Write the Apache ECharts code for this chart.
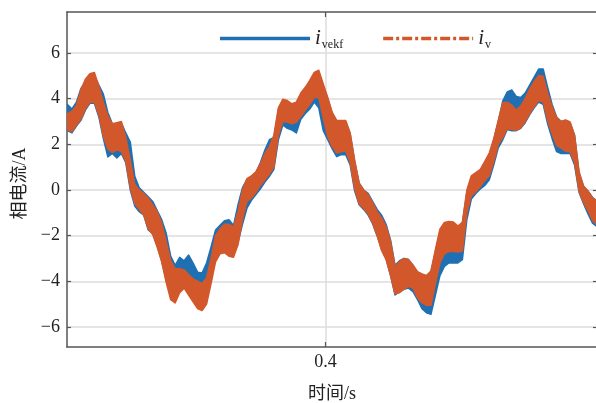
<!DOCTYPE html>
<html>
<head>
<meta charset="utf-8">
<script src="https://cdn.jsdelivr.net/npm/echarts@6/dist/echarts.min.js"></script>
<style>
  html, body { margin: 0; padding: 0; background: #fff; }
  #chart { width: 596px; height: 403px; }
</style>
</head>
<body>
<div id="chart"></div>
<script>
// Sampling of the phase current: one min/max pair per 0.4 ms window
const t0 = 0.377;
const dt = 0.0004;

// i_vekf (EKF estimate): per-window maximum and minimum, A
const vekfMax = [
  3.75, 3.55, 3.85, 4.45, 4.7, 5.05, 5.0, 4.6, 4.2, 3.4,
  2.9, 2.9, 2.95, 2.5, 2.1, 0.6, 0.1, -0.1, -0.3, -0.5,
  -0.9, -1.3, -1.9, -2.9, -3.3, -2.95, -3.1, -2.85, -3.2, -3.6,
  -3.64, -3.2, -2.5, -1.75, -1.55, -1.35, -1.3, -1.55, -0.66, 0.1,
  0.45, 0.6, 0.75, 1.2, 1.75, 2.2, 2.3, 3.5, 3.9, 3.8,
  3.7, 3.8, 4.15, 4.45, 4.75, 5.05, 5.1, 4.5, 4.0, 3.35,
  3.0, 3.0, 3.0, 2.45, 1.25, 0.3, 0.0, -0.15, -0.5, -0.85,
  -1.1, -1.5, -2.2, -3.3, -3.1, -3.0, -3.05, -3.3, -3.6, -3.7,
  -3.8, -3.6, -2.7, -1.8, -1.5, -1.45, -1.45, -1.6, -1.45, -0.1,
  0.55, 0.7, 0.85, 1.2, 1.55, 2.2, 3.0, 3.9, 4.3, 4.38,
  4.1, 4.05, 4.25, 4.6, 4.95, 5.3, 5.3, 4.5, 3.75, 3.2,
  3.0, 3.05, 2.95, 2.4, 0.75, 0.15, -0.05, -0.33, -0.5
];
const vekfMin = [
  2.6, 2.5, 2.8, 3.05, 3.5, 3.8, 3.8, 3.2, 2.25, 1.45,
  1.6, 1.4, 1.6, 1.2, 0.0, -0.7, -0.95, -1.1, -1.75, -1.9,
  -2.45, -3.1, -3.95, -4.3, -4.1, -3.9, -3.9, -4.0, -4.3, -4.6,
  -4.8, -4.5, -3.8, -3.0, -2.7, -2.6, -2.7, -2.8, -2.3, -1.5,
  -0.8, -0.45, -0.2, 0.05, 0.35, 0.6, 0.9, 2.2, 2.85, 2.7,
  2.63, 2.5, 3.1, 3.35, 3.55, 3.85, 3.6, 2.6, 2.2, 1.8,
  1.46, 1.55, 1.55, 1.1, -0.05, -0.65, -0.85, -1.1, -1.48, -2.0,
  -2.6, -3.0, -3.75, -4.6, -4.45, -4.35, -4.3, -4.45, -4.8, -5.2,
  -5.38, -5.45, -4.6, -3.75, -3.35, -3.2, -3.2, -3.2, -3.05, -1.3,
  -0.4, -0.15, 0.05, 0.2, 0.45, 1.1, 1.85, 2.2, 2.65, 2.6,
  2.6, 2.7, 2.95, 3.3, 3.6, 3.85, 3.75, 2.9, 2.25, 1.68,
  1.6, 1.6, 1.6, 1.1, -0.1, -0.6, -1.05, -1.45, -1.6
];

// i_v (measured): per-window maximum and minimum, A
const vMax = [
  3.35, 3.45, 3.7, 4.4, 4.85, 5.1, 5.15, 4.55, 3.85, 3.25,
  2.9, 2.95, 3.0, 2.3, 1.3, 0.25, 0.0, -0.15, -0.35, -0.65,
  -0.95, -1.45, -2.25, -3.1, -3.45, -3.45, -3.5, -3.7, -3.9, -4.0,
  -4.1, -3.85, -3.0, -2.0, -1.7, -1.5, -1.5, -1.62, -0.95, 0.0,
  0.5, 0.62, 0.8, 1.15, 1.6, 1.9, 2.4, 3.6, 3.98, 3.92,
  3.78, 3.85, 4.25, 4.5, 4.8, 5.15, 5.25, 4.65, 4.05, 3.4,
  3.05, 3.05, 3.05, 2.5, 1.3, 0.3, 0.0, -0.2, -0.55, -0.95,
  -1.22, -1.6, -2.25, -3.35, -3.15, -3.0, -3.05, -3.3, -3.58, -3.68,
  -3.75, -3.55, -2.6, -1.72, -1.42, -1.38, -1.4, -1.58, -1.42, 0.0,
  0.62, 0.76, 0.9, 1.25, 1.62, 2.25, 3.05, 3.82, 3.85, 3.72,
  3.5, 3.68, 4.02, 4.42, 4.75, 5.02, 4.98, 4.25, 3.65, 3.18,
  3.0, 3.07, 2.98, 2.4, 0.8, 0.18, -0.05, -0.33, -0.5
];
const vMin = [
  2.65, 2.55, 2.85, 3.1, 3.55, 3.85, 3.85, 3.3, 2.35, 1.8,
  1.65, 1.75, 1.7, 1.25, 0.1, -0.6, -0.85, -1.1, -1.7, -1.95,
  -2.5, -3.15, -4.05, -4.8, -4.95, -4.5, -4.3, -4.6, -4.9, -5.2,
  -5.28, -5.0, -4.1, -3.15, -2.8, -2.75, -2.9, -2.95, -2.4, -1.3,
  -0.5, -0.35, -0.1, 0.2, 0.45, 0.7, 1.0, 2.4, 3.0, 2.98,
  2.9, 2.98, 3.22, 3.5, 3.75, 4.05, 4.05, 3.15, 2.35, 1.9,
  1.62, 1.68, 1.72, 1.2, 0.05, -0.62, -0.8, -1.05, -1.45, -2.0,
  -2.65, -3.05, -3.75, -4.55, -4.5, -4.35, -4.22, -4.3, -4.72, -4.95,
  -5.06, -5.05, -4.1, -3.2, -2.8, -2.7, -2.7, -2.72, -2.68, -1.0,
  -0.25, -0.08, 0.15, 0.42, 0.62, 1.25, 2.0, 2.3, 2.68, 2.65,
  2.62, 2.72, 3.0, 3.35, 3.65, 3.92, 3.85, 3.05, 2.45, 1.95,
  1.84, 1.7, 1.68, 1.2, -0.05, -0.55, -0.9, -1.33, -1.52
];

const yTicks = [-6, -4, -2, 0, 2, 4, 6];
const xTicks = [0.4];

const BLUE = '#1f70b3';
const ORANGE = '#d2582b';
const AXIS = '#555555';
const GRID = '#dcdcdc';
const SERIF = "'Liberation Serif', 'Noto Sans CJK SC', serif";

const X_MIN = 0.37696, X_MAX = 0.4242;
const Y_MIN = -6.88, Y_MAX = 7.8;

// Legend glyphs: solid bar and dash-dot bar (90 x 3.5)
const ICON_SOLID = 'path://M0,0H90V3.5H0Z';
const ICON_DASHDOT = 'path://M0,0H10V3.5H0Z M13,0H16V3.5H13Z M19,0H29V3.5H19Z M32,0H35V3.5H32Z ' +
  'M38,0H48V3.5H38Z M51,0H54V3.5H51Z M57,0H67V3.5H57Z M70,0H73V3.5H70Z M76,0H86V3.5H76Z M89,0H90V3.5H89Z';

// Ripple band: upper edge through the window maxima, lower edge back through the minima
function rippleBand(maxArr, minArr, color) {
  return function (params, api) {
    const top = [];
    const bot = [];
    for (let i = 0; i < maxArr.length; i++) {
      const t = t0 + i * dt;
      top.push(api.coord([t, maxArr[i]]));
      bot.push(api.coord([t, minArr[i]]));
    }
    return {
      type: 'polygon',
      shape: { points: top.concat(bot.reverse()) },
      style: { fill: color, stroke: color, lineWidth: 1.5, lineJoin: 'round' }
    };
  };
}

const chart = echarts.init(document.getElementById('chart'), null, { renderer: 'canvas' });

chart.setOption({
  animation: false,
  backgroundColor: '#fff',
  grid: { left: 67, right: -1, top: 12, bottom: 56, containLabel: false, outerBoundsMode: 'none' },
  legend: {
    left: 220,
    top: 28,
    padding: 0,
    itemWidth: 90,
    itemHeight: 3.5,
    itemGap: 40,
    data: [
      { name: 'ivekf', icon: ICON_SOLID },
      { name: 'iv', icon: ICON_DASHDOT }
    ],
    formatter: function (n) {
      return n === 'ivekf' ? '{i|i}{s|vekf}' : '{i|i}{s|v}';
    },
    textStyle: {
      rich: {
        i: { fontFamily: SERIF, fontStyle: 'italic', fontSize: 21, color: '#222' },
        s: { fontFamily: SERIF, fontSize: 12, color: '#222', verticalAlign: 'bottom', padding: [0, 0, -2, 1] }
      }
    }
  },
  xAxis: [
    {
      type: 'value', position: 'bottom', min: X_MIN, max: X_MAX,
      axisLine: { show: true, onZero: false, lineStyle: { color: AXIS, width: 1.5 } },
      axisTick: { show: true, inside: true, length: 5, customValues: xTicks, lineStyle: { color: AXIS, width: 1.2 } },
      axisLabel: { customValues: xTicks, fontFamily: SERIF, fontSize: 18, color: '#222', margin: 6 },
      splitLine: { show: true, lineStyle: { color: GRID, width: 1.5 } },
      name: '时间/s', nameLocation: 'middle', nameGap: 38,
      nameTextStyle: { fontFamily: SERIF, fontSize: 18, color: '#222' }
    },
    {
      type: 'value', position: 'top', min: X_MIN, max: X_MAX,
      axisLine: { show: true, onZero: false, lineStyle: { color: AXIS, width: 1.5 } },
      axisTick: { show: true, inside: true, length: 5, customValues: xTicks, lineStyle: { color: AXIS, width: 1.2 } },
      axisLabel: { show: false },
      splitLine: { show: false }
    }
  ],
  yAxis: [
    {
      type: 'value', position: 'left', min: Y_MIN, max: Y_MAX,
      axisLine: { show: true, onZero: false, lineStyle: { color: AXIS, width: 1.5 } },
      axisTick: { show: true, inside: true, length: 4, customValues: yTicks, lineStyle: { color: AXIS, width: 1.2 } },
      axisLabel: {
        customValues: yTicks, fontFamily: SERIF, fontSize: 18, color: '#222', margin: 7,
        formatter: function (v) { return String(v).replace('-', '\u2212'); }
      },
      splitLine: { show: true, lineStyle: { color: GRID, width: 1.5 } },
      name: '相电流/A', nameLocation: 'middle', nameGap: 38, nameRotate: 90,
      nameTextStyle: { fontFamily: SERIF, fontSize: 18, color: '#222', padding: [0, 0, 0, -8] }
    },
    {
      type: 'value', position: 'right', min: Y_MIN, max: Y_MAX,
      axisLine: { show: true, onZero: false, lineStyle: { color: AXIS, width: 1.5 } },
      axisTick: { show: true, inside: true, length: 4, customValues: yTicks, lineStyle: { color: AXIS, width: 1.2 } },
      axisLabel: { show: false },
      splitLine: { show: false }
    }
  ],
  series: [
    {
      name: 'ivekf', type: 'custom', coordinateSystem: 'cartesian2d',
      xAxisIndex: 0, yAxisIndex: 0, clip: true,
      data: [[t0, vekfMax[0]]],
      itemStyle: { color: BLUE },
      renderItem: rippleBand(vekfMax, vekfMin, BLUE),
      z: 2
    },
    {
      name: 'iv', type: 'custom', coordinateSystem: 'cartesian2d',
      xAxisIndex: 0, yAxisIndex: 0, clip: true,
      data: [[t0, vMax[0]]],
      itemStyle: { color: ORANGE },
      renderItem: rippleBand(vMax, vMin, ORANGE),
      z: 3
    }
  ]
});
</script>
</body>
</html>
